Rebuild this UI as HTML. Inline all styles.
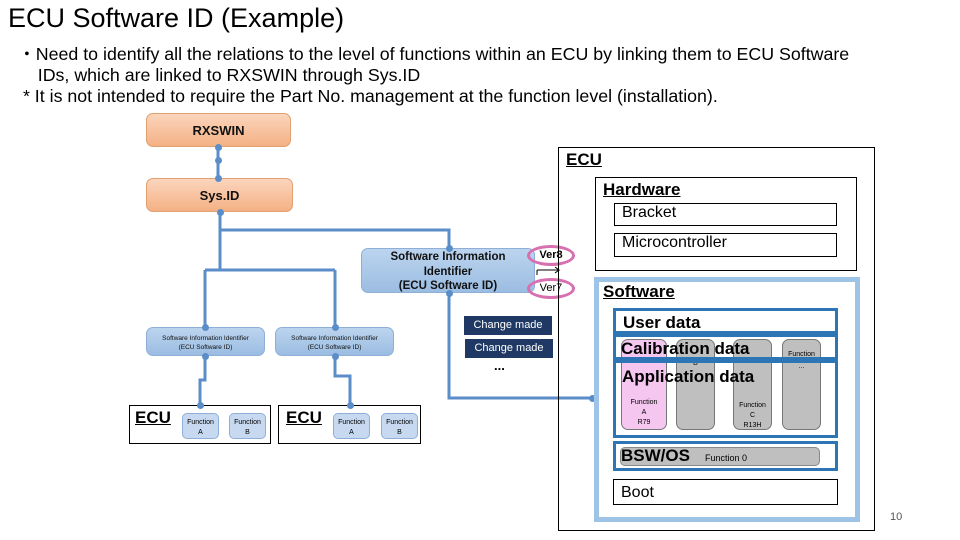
<!DOCTYPE html>
<html><head><meta charset="utf-8"><style>
body{margin:0;width:960px;height:540px;background:#fff;font-family:"Liberation Sans",sans-serif;position:relative;overflow:hidden}
.a{position:absolute;box-sizing:border-box}
.sw{background:linear-gradient(#bcd4ee,#9bbde2);border:1px solid #8eb0d8;border-radius:7px;text-align:center;color:#111}
.fn{background:#c6d9f0;border:1px solid #8eb0d8;border-radius:5px;font-size:7px;text-align:center;padding-top:4px;line-height:10px}
.dot{position:absolute;width:7px;height:7px;border-radius:50%;background:#5b8ec9;margin:-3.5px 0 0 -3.5px}
.cm{background:#1f3864;color:#fff;font-size:11px;text-align:center;line-height:19px}
.box{border:1px solid #000;background:#fff;font-size:16px;padding-left:7px}
.bl{border:3px solid #2e75b6}
.col{border:1px solid #777;border-radius:7px;background:#bfbfbf;font-size:7px;text-align:center}
</style></head><body>
<div class="a" style="left:8px;top:3px;font-size:27px">ECU Software ID (Example)</div>
<div class="a" style="left:18px;top:44px;font-size:17.8px;line-height:21px;width:940px;white-space:nowrap">
・Need to identify all the relations to the level of functions within an ECU by linking them to ECU Software<br>&nbsp;&nbsp;&nbsp;&nbsp;IDs, which are linked to RXSWIN through Sys.ID<br>&nbsp;* It is not intended to require the Part No. management at the function level (installation).</div>

<svg class="a" style="left:0;top:0" width="960" height="540">
<g stroke="#5b8ec9" stroke-width="3" fill="none">
<path d="M218 147V178"/><path d="M220 212V270M205 270H335M205 270V327M335 270V327"/>
<path d="M220 230H449V248"/><path d="M449 293V398H590"/>
<path d="M205 356V380H200V405"/><path d="M335 356V376H350V405"/>
</g>
<path d="M537 270h22l-4-3M559 270l-4 3M537 270v5" stroke="#000" stroke-width="1" fill="none"/>
</svg>
<div class="a sw" style="left:146px;top:113px;width:145px;height:34px;background:linear-gradient(#fbd5bd,#f4b184);border-color:#e0a070;font-weight:bold;font-size:13px;line-height:34px">RXSWIN</div>
<div class="a sw" style="left:146px;top:178px;width:147px;height:34px;background:linear-gradient(#fbd5bd,#f4b184);border-color:#e0a070;font-weight:bold;font-size:13px;line-height:34px">Sys.ID</div>
<div class="a sw" style="left:361px;top:248px;width:174px;height:45px;font-weight:bold;font-size:11.5px;line-height:14.5px;padding-top:1px">Software Information<br>Identifier<br>(ECU Software ID)</div>
<div class="a sw" style="left:146px;top:327px;width:119px;height:29px;font-size:6.5px;line-height:9px;padding-top:6px">Software Information Identifier<br>(ECU Software ID)</div>
<div class="a sw" style="left:275px;top:327px;width:119px;height:29px;font-size:6.5px;line-height:9px;padding-top:6px">Software Information Identifier<br>(ECU Software ID)</div>
<div class="a" style="left:527px;top:245px;width:48px;height:21px;border:3px solid #d86fb0;border-radius:50%;font-size:11px;font-weight:bold;text-align:center;line-height:15px">Ver8</div>
<div class="a" style="left:527px;top:278px;width:48px;height:21px;border:3px solid #d86fb0;border-radius:50%;font-size:11px;text-align:center;line-height:15px">Ver7</div>
<div class="a cm" style="left:464px;top:316px;width:88px;height:19px">Change made</div>
<div class="a cm" style="left:465px;top:339px;width:88px;height:19px">Change made</div>
<div class="a" style="left:494px;top:358px;font-size:13px;font-weight:bold">...</div>

<div class="a" style="left:129px;top:405px;width:142px;height:39px;border:1px solid #000"></div>
<div class="a" style="left:135px;top:408px;font-size:17px;font-weight:bold;text-decoration:underline">ECU</div>
<div class="a fn" style="left:182px;top:413px;width:37px;height:26px">Function<br>A</div>
<div class="a fn" style="left:229px;top:413px;width:37px;height:26px">Function<br>B</div>
<div class="a" style="left:278px;top:405px;width:143px;height:39px;border:1px solid #000"></div>
<div class="a" style="left:286px;top:408px;font-size:17px;font-weight:bold;text-decoration:underline">ECU</div>
<div class="a fn" style="left:333px;top:413px;width:37px;height:26px">Function<br>A</div>
<div class="a fn" style="left:381px;top:413px;width:37px;height:26px">Function<br>B</div>

<div class="dot" style="left:218px;top:147px"></div><div class="dot" style="left:218px;top:160px"></div><div class="dot" style="left:218px;top:178px"></div>
<div class="dot" style="left:220px;top:212px"></div><div class="dot" style="left:449px;top:248px"></div><div class="dot" style="left:449px;top:293px"></div>
<div class="dot" style="left:205px;top:327px"></div><div class="dot" style="left:335px;top:327px"></div>
<div class="dot" style="left:205px;top:356px"></div><div class="dot" style="left:335px;top:356px"></div>
<div class="dot" style="left:200px;top:405px"></div><div class="dot" style="left:350px;top:405px"></div>
<div class="dot" style="left:592px;top:398px"></div>

<div class="a" style="left:558px;top:147px;width:317px;height:384px;border:1px solid #000"></div>
<div class="a" style="left:566px;top:150px;font-size:17px;font-weight:bold;text-decoration:underline">ECU</div>
<div class="a" style="left:595px;top:177px;width:262px;height:94px;border:1px solid #000"></div>
<div class="a" style="left:603px;top:180px;font-size:17px;font-weight:bold;text-decoration:underline">Hardware</div>
<div class="a box" style="left:614px;top:203px;width:223px;height:23px">Bracket</div>
<div class="a box" style="left:614px;top:233px;width:223px;height:24px">Microcontroller</div>
<div class="a" style="left:594px;top:277px;width:266px;height:245px;border:5px solid #9dc3e6"></div>
<div class="a" style="left:603px;top:282px;font-size:17px;font-weight:bold;text-decoration:underline">Software</div>
<div class="a bl" style="left:613px;top:308px;width:225px;height:26px;font-size:17px;font-weight:bold;padding-left:7px;line-height:24px">User data</div>
<div class="a bl" style="left:613px;top:334px;width:225px;height:27px"></div>
<div class="a bl" style="left:613px;top:360px;width:225px;height:78px"></div>
<div class="a col" style="left:621px;top:339px;width:46px;height:91px;background:#f4c6f0;padding-top:58px;line-height:10px">Function<br>A<br>R79</div>
<div class="a col" style="left:676px;top:339px;width:39px;height:91px;padding-top:20px">B</div>
<div class="a col" style="left:733px;top:339px;width:39px;height:91px;padding-top:61px;line-height:10px">Function<br>C<br>R13H</div>
<div class="a col" style="left:782px;top:339px;width:39px;height:91px;padding-top:9px;line-height:12px">Function<br>...</div>
<div class="a" style="left:613px;top:357px;width:225px;height:6px;background:#2e75b6"></div>
<div class="a" style="left:621px;top:339px;font-size:17px;font-weight:bold">Calibration data</div>
<div class="a" style="left:622px;top:367px;font-size:17px;font-weight:bold">Application data</div>
<div class="a bl" style="left:613px;top:441px;width:225px;height:30px"></div>
<div class="a" style="left:620px;top:447px;width:200px;height:19px;border:1px solid #888;border-radius:5px;background:#bfbfbf"></div>
<div class="a" style="left:621px;top:446px;font-size:17px;font-weight:bold">BSW/OS</div>
<div class="a" style="left:705px;top:453px;font-size:9px">Function 0</div>
<div class="a box" style="left:613px;top:479px;width:225px;height:26px;line-height:26px">Boot</div>
<div class="a" style="left:890px;top:511px;font-size:11px;color:#555">10</div>
</body></html>
